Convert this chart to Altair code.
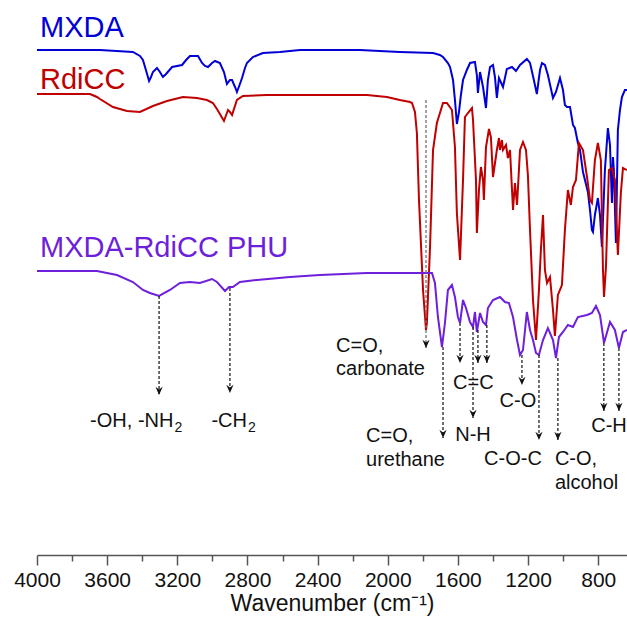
import altair as alt
import pandas as pd

# ---------------- data ----------------
series_names = ["MXDA", "RdiCC", "MXDA-RdiCC PHU"]
series_colors = ["#0000D6", "#C00000", "#6E1FDB"]

wn_mxda = [4000, 3641, 3453, 3413, 3396, 3379, 3361, 3350, 3339, 3316, 3299, 3282, 3264, 3230, 3173, 3150,
           3128, 3082, 3059, 3042, 3025, 3002, 2985, 2957, 2934, 2917, 2900, 2888, 2871, 2860, 2843, 2831,
           2814, 2803, 2769, 2712, 2615, 2501, 2159, 1931, 1742, 1703, 1685, 1657, 1645, 1628, 1617, 1606,
           1594, 1583, 1571, 1549, 1531, 1503, 1492, 1486, 1474, 1457, 1440, 1429, 1417, 1400, 1389, 1378,
           1366, 1343, 1321, 1292, 1269, 1246, 1207, 1189, 1167, 1150, 1132, 1121, 1104, 1087, 1058, 1041,
           1018, 1001, 990, 978, 961, 944, 933, 916, 904, 887, 859, 847, 836, 830, 819, 802, 790, 779, 762,
           745, 733, 722, 716, 711, 699, 688, 676, 665, 648, 636]
tr_mxda = [505, 505, 503, 499, 495, 485, 474, 478, 483, 487, 483, 478, 481, 488, 490, 495,
           499, 499, 492, 489, 488, 492, 494, 492, 483, 471, 475, 475, 468, 463, 471, 477,
           487, 492, 498, 502, 503, 505, 505, 503, 502, 500, 498, 492, 488, 475, 455, 431,
           443, 460, 475, 485, 492, 493, 480, 462, 483, 468, 447, 475, 488, 490, 478, 457,
           477, 468, 486, 488, 484, 490, 496, 492, 475, 461, 485, 492, 490, 480, 457, 463,
           477, 465, 450, 448, 448, 430, 427, 412, 405, 383, 363, 345, 325, 323, 340, 357, 340, 308, 385,
           427, 410, 352, 398, 385, 312, 425, 445, 458, 465, 465]

wn_rdicc = [4000, 3698, 3658, 3641, 3567, 3487, 3413, 3339, 3259, 3168, 3088, 3031, 2997, 2974, 2957, 2934,
            2911, 2900, 2888, 2860, 2826, 2689, 2501, 2119, 2005, 1931, 1873, 1862, 1845, 1834, 1822, 1799,
            1782, 1777, 1759, 1742, 1720, 1685, 1663, 1634, 1617, 1606, 1588, 1571, 1560, 1543, 1520, 1514,
            1497, 1492, 1480, 1469, 1457, 1452, 1440, 1423, 1412, 1400, 1378, 1366, 1360, 1349, 1343, 1326,
            1315, 1303, 1286, 1275, 1263, 1246, 1229, 1212, 1201, 1189, 1172, 1155, 1138, 1127, 1115, 1104,
            1092, 1075, 1058, 1047, 1030, 1007, 990, 973, 956, 944, 927, 910, 887, 864, 847, 836, 819, 802,
            785, 773, 767, 756, 739, 722, 705, 688, 671, 659, 636]
tr_rdicc = [461, 461, 458, 456, 448, 444, 443, 449, 454, 458, 457, 455, 452, 446, 441, 434,
            445, 443, 440, 455, 459, 460, 460, 460, 458, 455, 453, 452, 443, 422, 355, 265,
            225, 232, 308, 405, 432, 452, 452, 445, 408, 342, 295, 375, 438, 442, 447, 435,
            375, 322, 365, 388, 375, 355, 408, 426, 418, 378, 405, 417, 405, 415, 405, 410,
            397, 405, 345, 372, 350, 405, 413, 405, 380, 325, 255, 215, 265, 305, 340, 285,
            272, 278, 245, 219, 260, 270, 325, 365, 350, 368, 375, 412, 405, 378, 355, 352, 395, 412,
            395, 285, 258, 288, 385, 387, 375, 300, 362, 387, 385]

wn_phu = [4000, 3658, 3544, 3453, 3396, 3356, 3304, 3242, 3185, 3128, 3071, 3002, 2974, 2928, 2905, 2883,
          2843, 2746, 2558, 2387, 2119, 1748, 1731, 1714, 1691, 1674, 1657, 1634, 1617, 1600, 1588, 1571,
          1554, 1531, 1514, 1503, 1492, 1474, 1457, 1440, 1429, 1400, 1360, 1332, 1309, 1286, 1263, 1246,
          1229, 1207, 1189, 1172, 1155, 1138, 1115, 1087, 1058, 1041, 1024, 1001, 973, 944, 916, 864, 836,
          813, 790, 767, 733, 705, 682, 659, 636]
tr_phu = [284, 284, 280, 273, 265, 262, 259, 265, 272, 273, 272, 276, 273, 264, 268, 268,
          273, 275, 278, 280, 282, 282, 272, 238, 208, 232, 265, 270, 258, 238, 232, 255,
          247, 233, 228, 243, 223, 242, 233, 230, 247, 255, 258, 253, 252, 238, 215, 200,
          205, 243, 225, 215, 202, 200, 215, 227, 215, 197, 218, 223, 230, 228, 238, 240, 242,
          249, 240, 212, 233, 225, 207, 223, 225]

# peak assignment arrows: wavenumber, start level, end level (tip)
arrow_wn = [3304, 2900, 1782, 1685, 1588, 1486, 1435, 1514, 1235, 1138, 1030, 768, 682]
arrow_from = [259, 267, 455, 208, 232, 225, 230, 228, 200, 200, 197, 212, 207]
arrow_to = [160, 162, 207, 117, 192, 192, 192, 137, 170, 115, 115, 144, 144]
arrow_tone = ["k", "k", "g", "k", "k", "k", "k", "k", "k", "k", "k", "k", "k"]

# annotation texts
left_text = ["C=O,", "carbonate", "C=O,", "urethane", "C-O,", "alcohol", "C-H"]
left_wn = [2295, 2295, 2124, 2124, 1047, 1047, 840]
left_lv = [203, 180, 113, 89, 90, 66, 123]

center_text = ["C=C", "N-H", "C-O", "C-O-C"]
center_wn = [1512, 1514, 1258, 1286]
center_lv = [166, 114, 148, 90]

right_text = ["-OH, -NH", "-CH"]
right_wn = [3222, 2803]
right_lv = [128, 128]
sub_text = ["2", "2"]
sub_lv = [123, 123]

label_wn = [3983, 3983, 3983]
label_lv = [518, 466, 298]

major_ticks = [4000, 3600, 3200, 2800, 2400, 2000, 1600, 1200, 800]
minor_ticks = [3800, 3400, 3000, 2600, 2200, 1800, 1400, 1000]
x_domain = [4000, 636]
y_domain = [0, 555]

# ---------------- tables ----------------
curves = pd.concat([
    pd.DataFrame({"wn": wn_mxda, "tr": tr_mxda, "series": "MXDA"}),
    pd.DataFrame({"wn": wn_rdicc, "tr": tr_rdicc, "series": "RdiCC"}),
    pd.DataFrame({"wn": wn_phu, "tr": tr_phu, "series": "MXDA-RdiCC PHU"}),
], ignore_index=True)

arrows = pd.DataFrame({"wn": arrow_wn, "a": arrow_from, "b": arrow_to, "tone": arrow_tone})
minor_df = pd.DataFrame({"wn": minor_ticks})
left_df = pd.DataFrame({"wn": left_wn, "lv": left_lv, "t": left_text})
center_df = pd.DataFrame({"wn": center_wn, "lv": center_lv, "t": center_text})
right_df = pd.DataFrame({"wn": right_wn, "lv": right_lv, "t": right_text})
sub_df = pd.DataFrame({"wn": right_wn, "lv": sub_lv, "t": sub_text})
labels_df = pd.DataFrame({"wn": label_wn, "lv": label_lv, "series": series_names})

xs = alt.Scale(domain=x_domain, zero=False, nice=False)
ys = alt.Scale(domain=y_domain, zero=False, nice=False)
cs = alt.Scale(domain=series_names, range=series_colors)

x_major = alt.Axis(values=major_ticks, orient="bottom", title="Wavenumber (cm⁻¹)", grid=False,
                   format="d", tickSize=10, tickWidth=1.5, tickColor="#555555", domainColor="#555555",
                   domainWidth=1.5, labelFont="Liberation Sans", labelFontSize=21,
                   labelColor="#111111", labelPadding=4, labelFlush=False,
                   titleFont="Liberation Sans", titleFontSize=23, titleFontWeight="normal",
                   titleColor="#111111", titlePadding=2)
x_minor = alt.Axis(values=minor_ticks, orient="bottom", title=None, labels=False, domain=False,
                   grid=False, tickSize=6, tickWidth=1.5, tickColor="#555555")
XN = lambda f: alt.X(f, scale=xs, axis=None)

lines = alt.Chart(curves).mark_line(strokeWidth=2, interpolate="linear").encode(
    x=alt.X("wn:Q", scale=xs, axis=x_major),
    y=alt.Y("tr:Q", scale=ys, axis=None),
    color=alt.Color("series:N", scale=cs, legend=None),
    detail="series:N",
    order=alt.Order("wn:Q", sort="descending"),
)

minor_layer = alt.Chart(minor_df).mark_point(opacity=0).encode(
    x=alt.X("wn:Q", scale=xs, axis=x_minor),
    y=alt.value(0),
)

rules = alt.Chart(arrows).mark_rule(strokeDash=[3, 2], strokeWidth=1.3).encode(
    x=XN("wn:Q"),
    y=alt.Y("a:Q", scale=ys, axis=None),
    y2="b:Q",
    color=alt.Color("tone:N", scale=alt.Scale(domain=["k", "g"], range=["#222222", "#707070"]), legend=None),
)

heads = alt.Chart(arrows).mark_point(
    shape="M-1,-2.3L0,0L1,-2.3L0,-1.5Z", filled=True, size=52, opacity=1, strokeWidth=0
).encode(
    x=XN("wn:Q"),
    y=alt.Y("b:Q", scale=ys, axis=None),
    color=alt.value("#111111"),
)

font = "Liberation Sans"
def txt(df, align, size, field="t:N", dx=0):
    return alt.Chart(df).mark_text(align=align, baseline="alphabetic", font=font, fontSize=size,
                                   color="#111111", dx=dx).encode(
        x=XN("wn:Q"), y=alt.Y("lv:Q", scale=ys, axis=None), text=field)

t_left = txt(left_df, "left", 20)
t_center = txt(center_df, "center", 20)
t_right = txt(right_df, "right", 20)
t_sub = txt(sub_df, "left", 14, dx=1)
t_series = alt.Chart(labels_df).mark_text(align="left", baseline="alphabetic", font=font,
                                           fontSize=29).encode(
    x=XN("wn:Q"), y=alt.Y("lv:Q", scale=ys, axis=None), text="series:N",
    color=alt.Color("series:N", scale=cs, legend=None))

chart = alt.layer(
    lines, minor_layer, rules, heads, t_left, t_center, t_right, t_sub, t_series
).resolve_axis(x="independent").resolve_scale(color="independent").properties(
    width=590, height=555,
    padding={"left": 37, "top": 0, "right": 0, "bottom": 80},
    autosize=alt.AutoSizeParams(type="none"),
    background="white",
).configure_view(strokeWidth=0)

chart.save("out.html", embed_options={"renderer": "svg", "actions": False})
